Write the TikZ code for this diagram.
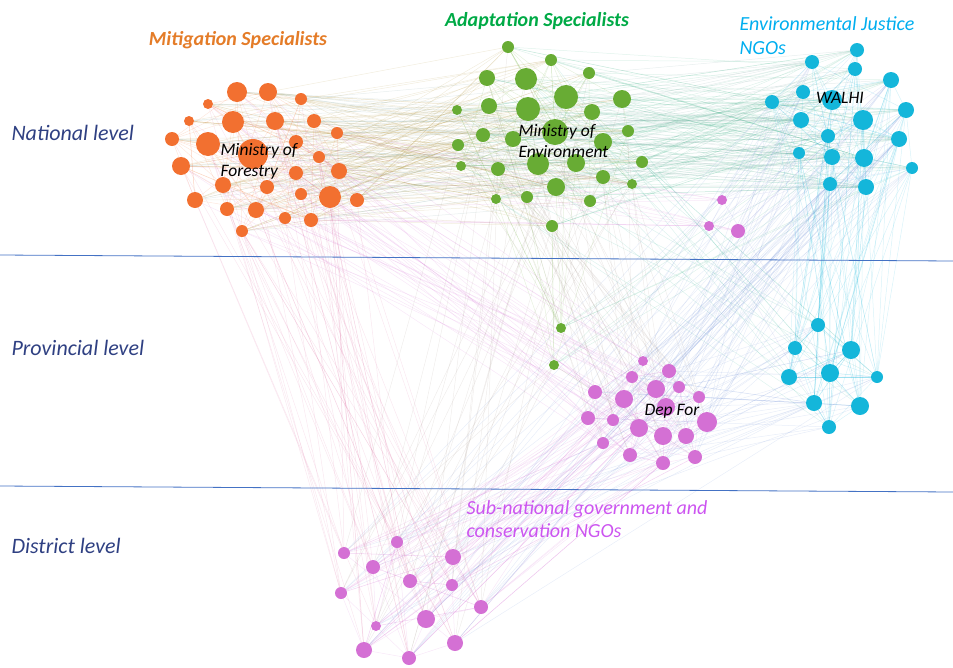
\documentclass[tikz,border=0pt]{standalone}
\usepackage{fontspec}
\setmainfont{Carlito}
\usetikzlibrary{positioning}
\pgfdeclarelayer{background}
\pgfsetlayers{background,main}

\definecolor{mitcol}{RGB}{242,112,48}
\definecolor{adacol}{RGB}{104,172,52}
\definecolor{ngocol}{RGB}{20,182,218}
\definecolor{subcol}{RGB}{212,112,212}
\definecolor{levcol}{RGB}{47,64,130}
\definecolor{divcol}{RGB}{68,114,196}
\definecolor{mithead}{RGB}{228,124,40}
\definecolor{adahead}{RGB}{0,170,70}
\definecolor{ngohead}{RGB}{0,174,239}
\definecolor{subhead}{RGB}{204,85,240}

\begin{document}
\begin{tikzpicture}[x=1pt, y=-1pt,
    actor/.style={circle, inner sep=0pt, outer sep=0pt, minimum size=#1},
    mitnode/.style={actor=#1, fill=mitcol},
    adanode/.style={actor=#1, fill=adacol},
    ngonode/.style={actor=#1, fill=ngocol},
    subnode/.style={actor=#1, fill=subcol},
    tie/.style={draw=#1, line width=0.5pt, draw opacity=0.16},
    divider/.style={draw=divcol, line width=0.8pt},
    level/.style={font=\fontsize{22}{26}\selectfont\itshape, text=levcol, anchor=west},
    group/.style={font=\fontsize{20}{23.5}\selectfont\itshape, align=left, anchor=west},
    tag/.style={font=\fontsize{17.5}{21}\selectfont\itshape, align=left, text=black}
]
\useasboundingbox (0,0) rectangle (953,667);
\pgfmathsetseed{11}

% Mitigation specialists (national)
\foreach \x/\y/\r [count=\i] in {237/92/10, 268/92/9, 208/104/5, 301/99/6, 189/121/5, 233/122/11,
    275/121/9, 314/121/7, 172/139/7, 208/144/12, 296/142/7, 337/133/6, 253/154/15, 319/157/6,
    181/166/9, 339/171/8, 296/173/7, 223/185/8, 267/187/7, 195/200/8, 301/194/6, 330/197/11,
    357/200/7, 227/209/7, 256/210/8, 285/218/6, 311/220/7, 242/231/6}
  \node[mitnode=2*\r pt] (o\i) at (\x,\y) {};

% Adaptation specialists
\foreach \x/\y/\r [count=\i] in {508/47/6, 551/60/6, 487/78/8, 526/79/11, 589/73/6, 566/97/12,
    622/99/9, 457/110/5, 489/106/8, 528/109/12, 592/112/8, 628/131/6, 483/135/7, 513/139/8,
    555/132/13, 603/142/9, 458/145/6, 461/166/5, 498/169/7, 538/164/11, 576/163/9, 603/177/7,
    642/162/6, 632/184/5, 556/187/9, 496/199/5, 527/197/6, 590/201/6, 552/226/6, 561/328/5, 554/365/5}
  \node[adanode=2*\r pt] (g\i) at (\x,\y) {};

% Environmental justice NGOs (1-18 national, 19-27 provincial)
\foreach \x/\y/\r [count=\i] in {857/50/7, 812/62/7, 855/69/7, 891/80/8, 803/92/7, 832/100/10,
    772/102/7, 906/110/8, 801/120/8, 863/120/10, 828/136/7, 899/139/8, 799/153/6, 832/157/8,
    864/158/9, 912/168/6, 830/184/7, 866/187/8,
    818/325/7, 795/348/7, 851/350/9, 789/377/8, 830/373/9, 877/377/6, 814/403/8, 860/406/9, 829/427/7}
  \node[ngonode=2*\r pt] (b\i) at (\x,\y) {};

% Sub-national government and NGOs (1-3 upper, 4-22 provincial, 23-35 district)
\foreach \x/\y/\r [count=\i] in {722/200/5, 709/226/5, 738/231/7,
    643/361/5, 669/371/7, 632/377/6, 656/389/9, 679/387/6, 595/392/7, 624/399/9, 699/397/6,
    666/407/9, 588/418/7, 613/420/6, 707/422/10, 639/428/9, 663/436/9, 686/436/8, 603/443/6,
    630/455/7, 695/457/7, 663/463/7,
    344/553/6, 397/542/6, 453/557/8, 373/567/7, 410/581/7, 452/585/6, 341/593/6, 481/607/7,
    426/619/9, 376/626/5, 364/650/8, 455/643/8, 409/658/7}
  \node[subnode=2*\r pt] (p\i) at (\x,\y) {};

% Ties
\begin{pgfonlayer}{background}
\foreach \i in {1,...,28}{
  \foreach \k in {1,2,3}{
    \pgfmathrandominteger{\j}{1}{28}
    \ifnum\j=\i\relax\else\draw[tie=mitcol] (o\i) -- (o\j);\fi
  }
  \foreach \k in {1,...,5}{
    \pgfmathrandominteger{\j}{1}{29}
    \draw[tie=mitcol!50!adacol] (o\i) -- (g\j);
  }
  \foreach \k in {1,2}{
    \pgfmathrandominteger{\j}{1}{18}
    \draw[tie=mitcol!40!ngocol] (o\i) -- (b\j);
  }
}
\foreach \i in {1,...,31}{
  \foreach \k in {1,2,3}{
    \pgfmathrandominteger{\j}{1}{31}
    \ifnum\j=\i\relax\else\draw[tie=adacol] (g\i) -- (g\j);\fi
  }
  \foreach \k in {1,...,4}{
    \pgfmathrandominteger{\j}{1}{18}
    \draw[tie=adacol!50!ngocol] (g\i) -- (b\j);
  }
}
\foreach \i in {1,...,18}{
  \foreach \k in {1,2,3}{
    \pgfmathrandominteger{\j}{1}{18}
    \ifnum\j=\i\relax\else\draw[tie=ngocol] (b\i) -- (b\j);\fi
  }
}
\foreach \i in {19,...,27}{
  \foreach \k in {1,...,4}{
    \pgfmathrandominteger{\j}{19}{27}
    \ifnum\j=\i\relax\else\draw[tie=ngocol] (b\i) -- (b\j);\fi
  }
  \foreach \k in {1,...,7}{
    \pgfmathrandominteger{\j}{1}{18}
    \draw[tie=ngocol] (b\i) -- (b\j);
  }
  \foreach \k in {1,2}{
    \pgfmathrandominteger{\j}{1}{29}
    \draw[tie=ngocol!60!adacol] (b\i) -- (g\j);
  }
}
\foreach \i in {1,2,3}{
  \foreach \k in {1,...,4}{
    \pgfmathrandominteger{\j}{1}{27}
    \draw[tie=subcol!60!ngocol] (p\i) -- (b\j);
  }
  \foreach \k in {1,...,4}{
    \pgfmathrandominteger{\j}{1}{28}
    \draw[tie=subcol] (p\i) -- (o\j);
  }
}
\foreach \i in {4,...,22}{
  \foreach \k in {1,2,3}{
    \pgfmathrandominteger{\j}{4}{22}
    \ifnum\j=\i\relax\else\draw[tie=subcol] (p\i) -- (p\j);\fi
  }
  \foreach \k in {1,...,4}{
    \pgfmathrandominteger{\j}{1}{27}
    \draw[tie=subcol!50!ngocol] (p\i) -- (b\j);
  }
  \foreach \k in {1,2}{
    \pgfmathrandominteger{\j}{1}{31}
    \draw[tie=subcol!50!adacol] (p\i) -- (g\j);
  }
  \foreach \k in {1,2}{
    \pgfmathrandominteger{\j}{1}{28}
    \draw[tie=subcol] (p\i) -- (o\j);
  }
}
\foreach \i in {23,...,35}{
  \foreach \k in {1,2,3}{
    \pgfmathrandominteger{\j}{23}{35}
    \ifnum\j=\i\relax\else\draw[tie=subcol] (p\i) -- (p\j);\fi
  }
  \foreach \k in {1,...,4}{
    \pgfmathrandominteger{\j}{1}{28}
    \draw[tie=subcol!70!mitcol] (p\i) -- (o\j);
  }
  \foreach \k in {1,...,4}{
    \pgfmathrandominteger{\j}{4}{22}
    \draw[tie=subcol] (p\i) -- (p\j);
  }
  \foreach \k in {1,2,3}{
    \pgfmathrandominteger{\j}{1}{27}
    \draw[tie=subcol!50!ngocol] (p\i) -- (b\j);
  }
  \foreach \k in {1,2}{
    \pgfmathrandominteger{\j}{1}{31}
    \draw[tie=subcol!50!adacol] (p\i) -- (g\j);
  }
}
\end{pgfonlayer}

% Levels
\draw[divider] (0,255) -- (953,261);
\draw[divider] (0,486) -- (953,492);
\node[level] (national) at (8,133) {National level};
\node[level] (provincial) at (8,348) {Provincial level};
\node[level] (district) at (8,546) {District level};

% Group labels
\node[group, text=mithead, font=\fontsize{20}{23.5}\selectfont\bfseries\itshape, anchor=center] (mitlabel) at (238,40) {Mitigation Specialists};
\node[group, text=adahead, font=\fontsize{20}{23.5}\selectfont\bfseries\itshape, anchor=center] (adalabel) at (537,21) {Adaptation Specialists};
\node[group, text=ngohead] (ngolabel) at (736,35.5) {Environmental Justice\\NGOs};
\node[group, text=subhead] (sublabel) at (463,519) {Sub-national government and\\conservation NGOs};

% Actor labels
\node[tag, anchor=west] (forestry) at (217,161.5) {Ministry of\\Forestry};
\node[tag, anchor=west] (environment) at (515,141) {Ministry of\\Environment};
\node[tag] (walhi) at (840,98) {WALHI};
\node[tag] (depfor) at (672,411) {Dep For};

\end{tikzpicture}
\end{document}
